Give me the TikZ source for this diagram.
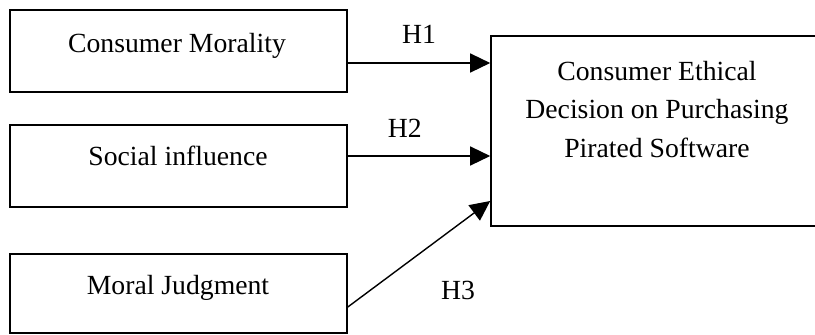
\documentclass[tikz,border=0pt]{standalone}
\usepackage{fontspec}
\setmainfont{Liberation Serif}
\usetikzlibrary{arrows.meta}
\begin{document}
\begin{tikzpicture}[x=1pt,y=-1pt,
  box/.style={draw, line width=1.6pt, rectangle, inner sep=0pt},
  txt/.style={font=\fontsize{27.7}{38.5}\selectfont, inner sep=0pt, anchor=base},
  arr/.style={line width=1.4pt, -{Triangle[length=20pt,width=19pt]}}]
\useasboundingbox (0,0) rectangle (815,335);
\node[box, minimum width=337pt, minimum height=82pt] (cm) at (178.5,51) {};
\node[box, minimum width=337pt, minimum height=82pt] (si) at (178.5,166) {};
\node[box, minimum width=337pt, minimum height=79pt] (mj) at (178.5,293.5) {};
\node[box, minimum width=327pt, minimum height=190pt] (dec) at (654.5,131) {};
\node[txt] (t1) at (177,52) {Consumer Morality};
\node[txt] (t2) at (178,165) {Social influence};
\node[txt] (t3) at (178,294) {Moral Judgment};
\node[txt, align=center, anchor=north] (t4) at (657,61) {Consumer Ethical\\Decision on Purchasing\\Pirated Software};
\draw[arr] ([yshift=-12pt]cm.east) -- ([yshift=68pt]dec.west) node[pos=0.5, txt, anchor=base, yshift=20pt] (h1) {H1};
\draw[arr] ([yshift=10pt]si.east) -- ([yshift=-25pt]dec.west) node[pos=0.4, txt, anchor=base, yshift=19pt] (h2) {H2};
\draw[arr] ([yshift=-13.5pt]mj.east) -- ([yshift=-70pt]dec.west);
\node[txt] (h3) at (458,299) {H3};
\end{tikzpicture}
\end{document}
